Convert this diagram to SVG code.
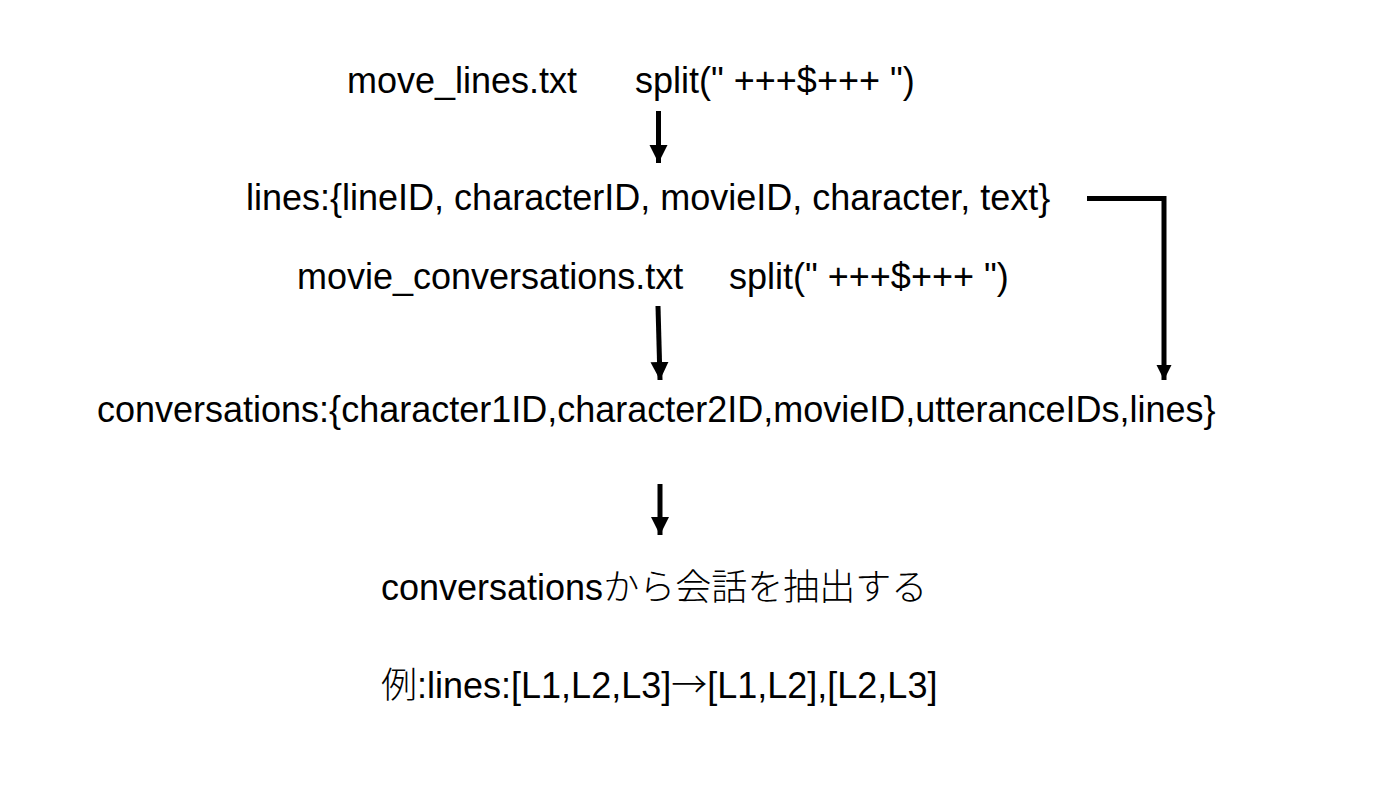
<svg xmlns="http://www.w3.org/2000/svg" width="1398" height="792" viewBox="0 0 1398 792">
<style>
.t{font-family:"Liberation Sans",Arial,"Noto Sans CJK JP",sans-serif;font-size:36px;fill:#000}
.j{font-family:"Noto Sans CJK JP",sans-serif;font-weight:300}
.c{stroke:#000;stroke-width:5;fill:none}
</style>
<defs>
<marker id="ah" markerUnits="userSpaceOnUse" markerWidth="20" markerHeight="20" viewBox="0 0 20 20" refX="18" refY="10" orient="auto">
<path d="M0,1 L18,10 L0,19 Z" fill="#000"/>
</marker>
<marker id="ah2" markerUnits="userSpaceOnUse" markerWidth="16" markerHeight="16" viewBox="0 0 16 16" refX="15" refY="8" orient="auto">
<path d="M0,0.5 L15,8 L0,15.5 Z" fill="#000"/>
</marker>
</defs>
<rect width="1398" height="792" fill="#fff"/>
<g id="node-move-lines"><text class="t" x="347" y="93">move_lines.txt</text></g>
<g id="node-split1"><text class="t" x="635" y="93">split(" +++$+++ ")</text></g>
<g id="node-lines"><text class="t" x="246" y="210">lines:{lineID, characterID, movieID, character, text}</text></g>
<g id="node-movie-conv"><text class="t" x="297" y="289">movie_conversations.txt</text></g>
<g id="node-split2"><text class="t" x="729" y="289">split(" +++$+++ ")</text></g>
<g id="node-conversations"><text class="t" x="97" y="422">conversations:{character1ID,character2ID,movieID,utteranceIDs,lines}</text></g>
<g id="node-extract"><text class="t" x="381" y="600">conversations<tspan class="j">から会話を抽出する</tspan></text></g>
<g id="node-example"><text class="t" x="381" y="698"><tspan class="j">例</tspan>:lines:[L1,L2,L3]<tspan class="j">→</tspan>[L1,L2],[L2,L3]</text></g>
<g id="connectors">
<line class="c" x1="658.5" y1="111" x2="658.5" y2="163" marker-end="url(#ah)"/>
<line class="c" x1="658" y1="306" x2="660" y2="380" marker-end="url(#ah)"/>
<line class="c" x1="660" y1="484" x2="660" y2="535" marker-end="url(#ah)"/>
<polyline class="c" points="1087,198.5 1164,198.5 1164,380" marker-end="url(#ah2)"/>
</g>
</svg>
